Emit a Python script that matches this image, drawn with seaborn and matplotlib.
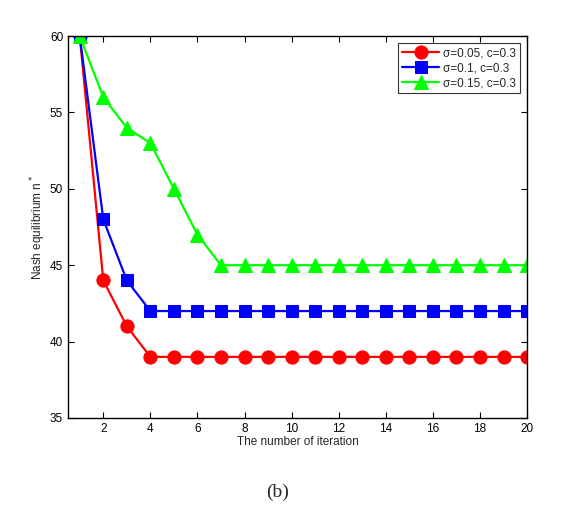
import numpy as np
import pandas as pd
import matplotlib
matplotlib.use("Agg")
import matplotlib.pyplot as plt
import seaborn as sns

iterations = list(range(1, 21))
red_vals = [60, 44, 41, 39, 39, 39, 39, 39, 39, 39, 39, 39, 39, 39, 39, 39, 39, 39, 39, 39]
blue_vals = [60, 48, 44, 42, 42, 42, 42, 42, 42, 42, 42, 42, 42, 42, 42, 42, 42, 42, 42, 42]
green_vals = [60, 56, 54, 53, 50, 47, 45, 45, 45, 45, 45, 45, 45, 45, 45, 45, 45, 45, 45, 45]
labels = ["σ=0.05, c=0.3", "σ=0.1, c=0.3", "σ=0.15, c=0.3"]
xticks = [2, 4, 6, 8, 10, 12, 14, 16, 18, 20]
yticks = [35, 40, 45, 50, 55, 60]

sns.set_theme(style="white")
plt.rcParams['font.family'] = ['Liberation Sans', 'DejaVu Sans']

df = pd.DataFrame({
    "x": iterations * 3,
    "y": red_vals + blue_vals + green_vals,
    "series": [labels[0]] * 20 + [labels[1]] * 20 + [labels[2]] * 20,
})

fig = plt.figure(figsize=(5.68, 5.16), dpi=100)
ax = fig.add_axes([0.1197, 0.190, 0.8083, 0.740])

colors = ["#ff0000", "#0000ff", "#00ff00"]
markers = ["o", "s", "^"]
msizes = [9.5, 8, 10]
for lab, c, m, ms in zip(labels, colors, markers, msizes):
    sub = df[df.series == lab]
    sns.lineplot(data=sub, x="x", y="y", ax=ax, color=c, marker=m, markersize=ms,
                 markeredgecolor=c, linewidth=1.6, label=lab)

ax.set_xlim(0.5, 20)
ax.set_ylim(35, 60)
ax.set_xticks(xticks)
ax.set_yticks(yticks)
ax.tick_params(direction="in", length=4, width=0.8, labelsize=8.5, colors="black",
               top=True, right=True, bottom=True, left=True)
for s in ax.spines.values():
    s.set_color("black")
    s.set_linewidth(1.0)
ax.set_xlabel("The number of iteration", fontsize=8.5, labelpad=1)
ax.set_ylabel("Nash equilibrium n$^*$", fontsize=8.5, labelpad=1)

leg = ax.legend(loc="upper right", fontsize=8.5, frameon=True, fancybox=False,
                edgecolor="black", handlelength=3.2, borderpad=0.35, labelspacing=0.25,
                handletextpad=0.3, borderaxespad=0.6)
leg.get_frame().set_linewidth(0.8)

fig.text(0.488, 0.037, "(b)", fontsize=14, family="Liberation Serif", ha="center")

fig.savefig("out.png", dpi=100)
